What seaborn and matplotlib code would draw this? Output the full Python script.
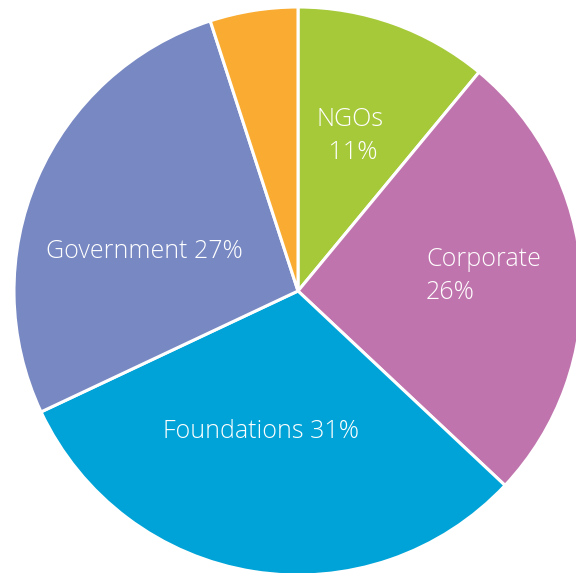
import matplotlib
matplotlib.use("Agg")
import matplotlib.pyplot as plt
import seaborn as sns

sns.set_theme(style="white")
plt.rcParams['font.family'] = ['Open Sans', 'DejaVu Sans']

# data
sectors = ["NGOs", "Corporate", "Foundations", "Government", "Other"]
shares = [11, 26, 31, 27, 5]
colors = ["#A6C93A", "#C074AD", "#00A3D7", "#7788C2", "#F9AC31"]
labels = ["NGOs\n 11%", "Corporate\n26%", "Foundations 31%", "Government 27%", ""]

W, H = 576, 573
cx, cy, r = 298, 291, 284

fig = plt.figure(figsize=(W / 100, H / 100), dpi=100)
ax = fig.add_axes([(cx - r) / W, (H - cy - r) / H, 2 * r / W, 2 * r / H])

wedges, _ = ax.pie(shares, colors=colors, startangle=90, counterclock=False,
                   radius=1.0, wedgeprops=dict(edgecolor="white", linewidth=2.2))
ax.set_xlim(-1, 1)
ax.set_ylim(-1, 1)
ax.set_aspect("equal")
ax.axis("off")

# label placement (pixel centres)
label_pos = [(350, 136, "center"), (426, 276, "left"), (261, 431, "center"), (144, 252, "center")]
for lab, (px, py, ha) in zip(labels, label_pos):
    ax.text((px - cx) / r, (cy - py) / r, lab, ha=ha, va="center", color="white",
            fontsize=18, fontweight="light", linespacing=1.4)

fig.savefig("out.png", dpi=100)
